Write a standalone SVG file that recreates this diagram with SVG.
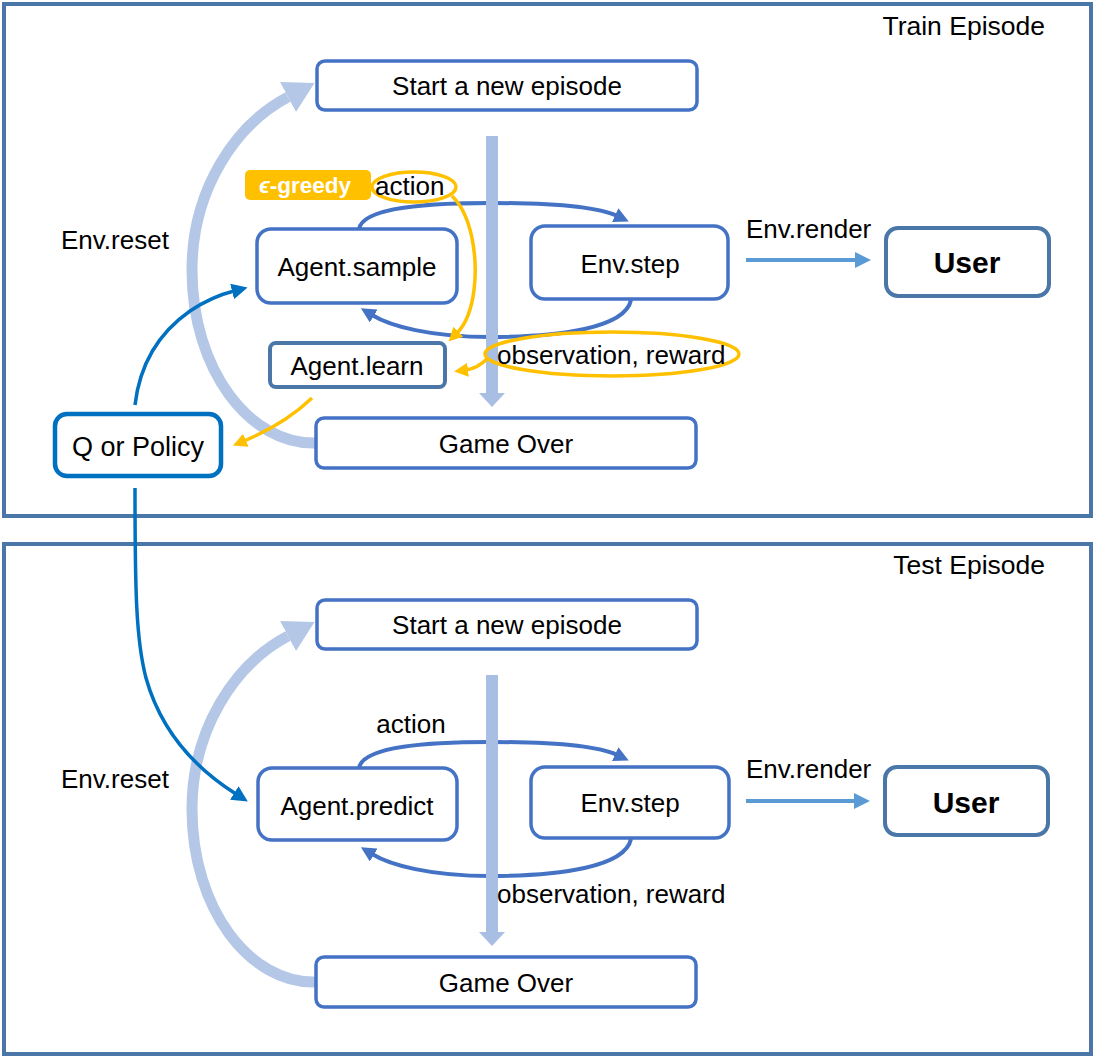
<svg xmlns="http://www.w3.org/2000/svg" width="1096" height="1060" viewBox="0 0 1096 1060">
<style>
  text { font-family: "Liberation Sans", Arial, sans-serif; fill: #000; }
  .lbl { font-size: 26px; }
  .mid { text-anchor: middle; }
  .frame { fill: none; stroke: #4a76a8; stroke-width: 4; }
  .node { fill: #fff; stroke: #4472c4; stroke-width: 3.5; }
  .dark { fill: #fff; stroke: #4a76a8; stroke-width: 4; }
  .qp { fill: #fff; stroke: #0070c0; stroke-width: 4.5; }
  .big { fill: none; stroke: #b4c7e7; stroke-width: 11; }
  .bar { fill: #a9bee3; }
  .loop { fill: none; stroke: #4472c4; stroke-width: 4; }
  .blue { fill: none; stroke: #0070c0; stroke-width: 3.5; }
  .yel { fill: none; stroke: #ffc000; stroke-width: 3.5; }
  .render { fill: none; stroke: #5b9bd5; stroke-width: 4; }
</style>
<defs>
  <marker id="mBig" markerUnits="userSpaceOnUse" viewBox="0 0 30 34" refX="0" refY="17" markerWidth="30" markerHeight="34" orient="auto">
    <path d="M0,0 L30,17 L0,34 z" fill="#b4c7e7"/>
  </marker>
  <marker id="mLoop" markerUnits="userSpaceOnUse" viewBox="0 0 15 15" refX="2" refY="7.5" markerWidth="15" markerHeight="15" orient="auto">
    <path d="M0,0 L15,7.5 L0,15 z" fill="#4472c4"/>
  </marker>
  <marker id="mBlue" markerUnits="userSpaceOnUse" viewBox="0 0 16 16" refX="2" refY="8" markerWidth="16" markerHeight="16" orient="auto">
    <path d="M0,0 L16,8 L0,16 z" fill="#0070c0"/>
  </marker>
  <marker id="mYel" markerUnits="userSpaceOnUse" viewBox="0 0 14 14" refX="2" refY="7" markerWidth="14" markerHeight="14" orient="auto">
    <path d="M0,0 L14,7 L0,14 z" fill="#ffc000"/>
  </marker>
  <marker id="mRender" markerUnits="userSpaceOnUse" viewBox="0 0 16 16" refX="2" refY="8" markerWidth="16" markerHeight="16" orient="auto">
    <path d="M0,0 L16,8 L0,16 z" fill="#5b9bd5"/>
  </marker>
</defs>
<rect fill="#fff" x="0" y="0" width="1096" height="1060"/>

<g id="train-frame">
  <rect class="frame" x="4" y="4" width="1087" height="512"/>
  <text x="1045" y="35" text-anchor="end" style="font-size:26.5px">Train Episode</text>
</g>
<g id="test-frame">
  <rect class="frame" x="4" y="544" width="1087" height="510"/>
  <text x="1045" y="574" text-anchor="end" style="font-size:26.5px">Test Episode</text>
</g>

<g id="connectors">
  <path class="big" d="M316,443 C250,445 192,370 192,270 C192,190 235,125 288,97" marker-end="url(#mBig)"/>
  <path class="big" d="M316,982 C250,984 192,909 192,809 C192,729 235,664 288,636" marker-end="url(#mBig)"/>

  <path class="loop" d="M359,229 C363,207 430,203 490,203 C560,203 600,208 617,216" marker-end="url(#mLoop)"/>
  <path class="loop" d="M631,300 C625,328 560,337 490,337 C430,337 390,326 372,315" marker-end="url(#mLoop)"/>
  <path class="loop" d="M359,768 C363,746 430,742 490,742 C560,742 600,747 617,755" marker-end="url(#mLoop)"/>
  <path class="loop" d="M631,839 C625,867 560,876 490,876 C430,876 390,865 372,854" marker-end="url(#mLoop)"/>

  <rect class="bar" x="486" y="136" width="12" height="258"/>
  <polygon class="bar" points="479,393 505,393 492,407"/>
  <rect class="bar" x="486" y="675" width="12" height="258"/>
  <polygon class="bar" points="479,932 505,932 492,946"/>

  <line class="render" x1="746" y1="260" x2="857" y2="260" marker-end="url(#mRender)"/>
  <line class="render" x1="746" y1="801" x2="856" y2="801" marker-end="url(#mRender)"/>

  <path class="blue" d="M135,405 C140,362 160,332 190,311 C208,299 222,294 234,291" marker-end="url(#mBlue)"/>
  <path class="blue" d="M135,488 C135,590 136,640 146,678 C162,735 198,770 236,794" marker-end="url(#mBlue)"/>

  <ellipse class="yel" cx="414" cy="187" rx="42" ry="15"/>
  <path class="yel" d="M452,196 C472,215 478,258 474,290 C471,314 464,326 457,333" marker-end="url(#mYel)"/>
  <ellipse class="yel" cx="612" cy="354" rx="127" ry="22"/>
  <path class="yel" d="M488,358 C480,366 474,369 466,370" marker-end="url(#mYel)"/>
  <path class="yel" d="M312,398 C292,417 268,431 244,441" marker-end="url(#mYel)"/>
</g>

<g id="train-start">
  <rect class="node" x="317" y="61" width="380" height="49" rx="8"/>
  <text class="lbl mid" x="507" y="95">Start a new episode</text>
</g>
<g id="train-agent-sample">
  <rect class="node" x="257" y="229" width="200" height="74" rx="14"/>
  <text class="lbl mid" x="357" y="276">Agent.sample</text>
</g>
<g id="train-env-step">
  <rect class="node" x="531" y="226" width="197" height="73" rx="14"/>
  <text class="lbl mid" x="630" y="273">Env.step</text>
</g>
<g id="train-agent-learn">
  <rect class="dark" x="270" y="343" width="175" height="44" rx="6"/>
  <text class="lbl mid" x="357" y="375">Agent.learn</text>
</g>
<g id="train-game-over">
  <rect class="node" x="316" y="418" width="380" height="50" rx="8"/>
  <text class="lbl mid" x="506" y="453">Game Over</text>
</g>
<g id="train-user">
  <rect class="dark" x="886" y="228" width="163" height="68" rx="12"/>
  <text class="mid" x="967" y="273" style="font-size:30px;font-weight:bold">User</text>
</g>
<g id="train-labels">
  <text class="lbl" x="61" y="249">Env.reset</text>
  <text class="lbl" x="746" y="238">Env.render</text>
  <rect x="245" y="170" width="126" height="30" rx="5" fill="#ffc000"/>
  <text x="259" y="193" style="font-size:22.5px;font-weight:bold;fill:#fff"><tspan style="font-style:italic">&#x3F5;</tspan>-greedy</text>
  <text class="lbl" x="375" y="195">action</text>
  <text class="lbl" x="497" y="364">observation, reward</text>
</g>
<g id="q-or-policy">
  <rect class="qp" x="55" y="414" width="166" height="62" rx="12"/>
  <text class="mid" x="138" y="456" style="font-size:27px">Q or Policy</text>
</g>

<g id="test-start">
  <rect class="node" x="317" y="600" width="380" height="49" rx="8"/>
  <text class="lbl mid" x="507" y="634">Start a new episode</text>
</g>
<g id="test-agent-predict">
  <rect class="node" x="258" y="768" width="199" height="72" rx="14"/>
  <text class="lbl mid" x="357" y="815">Agent.predict</text>
</g>
<g id="test-env-step">
  <rect class="node" x="531" y="767" width="198" height="71" rx="14"/>
  <text class="lbl mid" x="630" y="812">Env.step</text>
</g>
<g id="test-game-over">
  <rect class="node" x="316" y="957" width="380" height="50" rx="8"/>
  <text class="lbl mid" x="506" y="992">Game Over</text>
</g>
<g id="test-user">
  <rect class="dark" x="885" y="767" width="163" height="68" rx="12"/>
  <text class="mid" x="966" y="813" style="font-size:30px;font-weight:bold">User</text>
</g>
<g id="test-labels">
  <text class="lbl" x="61" y="788">Env.reset</text>
  <text class="lbl" x="746" y="778">Env.render</text>
  <text class="lbl mid" x="411" y="733">action</text>
  <text class="lbl" x="497" y="903">observation, reward</text>
</g>
</svg>
